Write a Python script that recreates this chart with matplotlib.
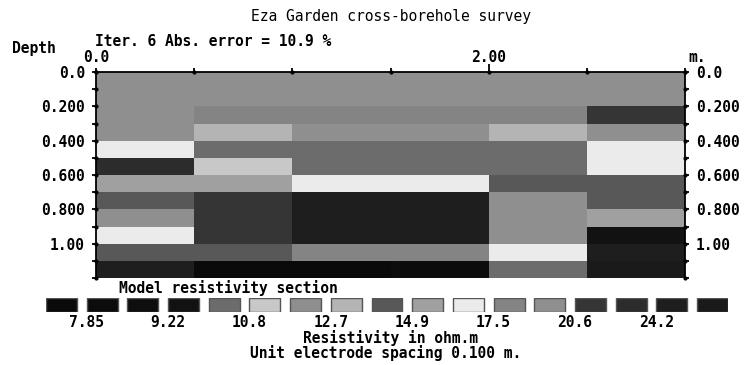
import numpy as np
import matplotlib.pyplot as plt
from matplotlib.colors import ListedColormap, BoundaryNorm
from matplotlib.patches import Rectangle

plt.rcParams['font.family'] = 'DejaVu Sans Mono'
plt.rcParams['font.weight'] = 'bold'
plt.rcParams['font.size'] = 10.5

title = 'Eza Garden cross-borehole survey'
subtitle = 'Iter. 6 Abs. error = 10.9 %'

# model block edges
x_edges = [0.0, 0.5, 1.0, 1.5, 2.0, 2.5, 3.0]
depth_edges = [0.0, 0.1, 0.2, 0.3, 0.4, 0.5, 0.6, 0.7, 0.8, 0.9, 1.0, 1.1, 1.2]

# contour levels of the colour bar (ohm.m)
levels = [7.85, 8.51, 9.22, 9.99, 10.8, 11.7, 12.7, 13.8,
          14.9, 16.2, 17.5, 19.0, 20.6, 22.3, 24.2, 26.2]
palette = ['#0a0a0a', '#0c0c0c', '#0e0e0e', '#121212', '#6c6c6c', '#c8c8c8',
           '#8e8e8e', '#b4b4b4', '#585858', '#a0a0a0', '#ebebeb', '#848484',
           '#8f8f8f', '#353535', '#2c2c2c', '#1e1e1e', '#1a1a1a']

# model resistivity, one row per depth layer
resistivity = [
    [19.8, 19.8, 19.8, 19.8, 19.8, 19.8],
    [19.8, 19.8, 19.8, 19.8, 19.8, 19.8],
    [19.8, 18.3, 18.3, 18.3, 18.3, 21.4],
    [19.8, 13.2, 19.8, 19.8, 13.2, 19.8],
    [16.8, 10.4, 10.4, 10.4, 10.4, 16.8],
    [23.2, 11.3, 10.4, 10.4, 10.4, 16.8],
    [15.5, 15.5, 16.8, 16.8, 14.3, 14.3],
    [14.3, 21.4, 25.2, 25.2, 19.8, 14.3],
    [19.8, 21.4, 25.2, 25.2, 19.8, 15.5],
    [16.8, 21.4, 25.2, 25.2, 19.8, 9.6],
    [14.3, 14.3, 18.3, 18.3, 16.8, 25.2],
    [25.2, 7.5, 7.5, 8.2, 10.4, 27.5],
]

W, H = 747, 365
fig = plt.figure(figsize=(W / 100, H / 100), dpi=100)

def px(x, y):
    return x / W, 1 - y / H

cmap = ListedColormap(palette)
norm = BoundaryNorm([0] + levels + [1000], cmap.N)

ax = fig.add_axes([96 / W, 1 - 278 / H, (685 - 96) / W, (278 - 72) / H])
ax.pcolormesh(x_edges, depth_edges, np.array(resistivity), cmap=cmap, norm=norm)
ax.set_xlim(x_edges[0], x_edges[-1])
ax.set_ylim(depth_edges[-1], depth_edges[0])
ax.spines['bottom'].set_visible(False)
for s in ['top', 'left', 'right']:
    ax.spines[s].set_linewidth(1.3)

ax.xaxis.tick_top()
ax.set_xticks([2.0])
ax.set_xticks(x_edges, minor=True)
ax.set_xticklabels([])
ax.tick_params(axis='x', which='major', length=6, width=1.3, direction='out')
ax.tick_params(axis='x', which='minor', length=3, width=1.3, direction='out')

ylab_pos = [0.0, 0.2, 0.4, 0.6, 0.8, 1.0]
ylab_txt = ['0.0', '0.200', '0.400', '0.600', '0.800', '1.00']
ax.set_yticks(ylab_pos)
ax.set_yticklabels(ylab_txt)
ax.set_yticks(depth_edges, minor=True)
ax.tick_params(axis='y', which='both', left=True, right=True, labelleft=True,
               labelright=True, length=3, width=1.3, direction='out', pad=5)
ax.tick_params(axis='y', which='major', labelright=True)
for lab in ax.get_yticklabels(which='major'):
    lab.set_fontweight('bold')

# tick dots
ax.plot(x_edges, [0] * len(x_edges), 'k.', ms=4, clip_on=False)
ax.plot([0] * len(depth_edges), depth_edges, 'k.', ms=4, clip_on=False)
ax.plot([3.0] * len(depth_edges), depth_edges, 'k.', ms=4, clip_on=False)

for xv, t in [(0.0, '0.0'), (2.0, '2.00')]:
    ax.annotate(t, xy=(xv, 1), xycoords=('data', 'axes fraction'),
                xytext=(0, 14), textcoords='offset pixels', ha='center', va='center')
ax.annotate('m.', xy=(3.0, 1), xycoords=('data', 'axes fraction'),
            xytext=(3, 14), textcoords='offset pixels', ha='left', va='center')

fig.text(*px(391, 17), title, ha='center', va='center', fontweight='normal')
fig.text(*px(213, 41), subtitle, ha='center', va='center')
fig.text(*px(34, 48), 'Depth', ha='center', va='center')
fig.text(*px(228, 288), 'Model resistivity section', ha='center', va='center')
fig.text(*px(391, 338), 'Resistivity in ohm.m', ha='center', va='center')
fig.text(*px(386, 353), 'Unit electrode spacing 0.100 m.', ha='center', va='center')

# colour bar boxes
bw = 31 / 40.7
lax = fig.add_axes([46 / W, 1 - 312 / H, (728 - 46) / W, 14 / H])
lax.set_xlim(0, len(palette) - 1 + bw)
lax.set_ylim(0, 1)
lax.axis('off')
for i, c in enumerate(palette):
    lax.add_patch(Rectangle((i, 0), bw, 1, facecolor=c, edgecolor='#555555', lw=1))
for k in range(0, len(levels), 2):
    lax.text(k + 1, -0.72, f'{levels[k]:.3g}', ha='center', va='center')

fig.savefig('out.png', dpi=100)
